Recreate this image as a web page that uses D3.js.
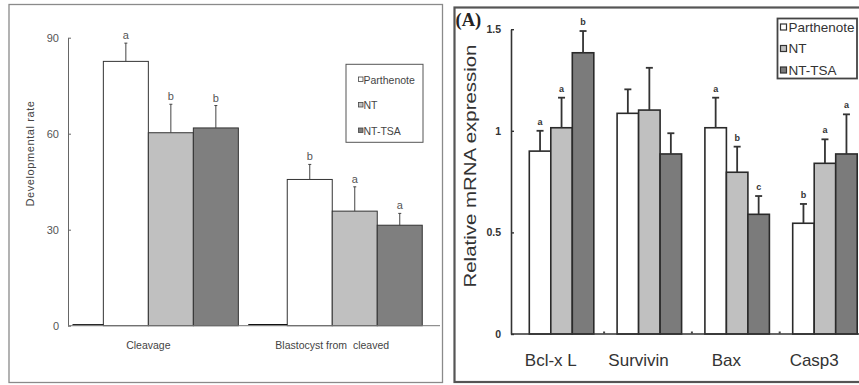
<!DOCTYPE html>
<html>
<head>
<meta charset="utf-8">
<script src="https://cdn.jsdelivr.net/npm/d3@7"></script>
<style>
  body { margin: 0; background: #fff; }
  svg { display: block; }
</style>
</head>
<body>
<svg id="chart" width="859" height="385"></svg>
<script>
// ---------- Left panel: developmental rate ----------
const stages = ["Cleavage", "Blastocyst from  cleaved"];
const groups = ["Parthenote", "NT", "NT-TSA"];
const parthenoteRate = [82.6, 45.7];
const ntRate = [60.3, 35.8];
const ntTsaRate = [61.8, 31.4];
const parthenoteRateErr = [5.7, 4.7];
const ntRateErr = [8.9, 7.6];
const ntTsaRateErr = [7.0, 3.7];
const parthenoteRateSig = ["a", "b"];
const ntRateSig = ["b", "a"];
const ntTsaRateSig = ["b", "a"];
const blankRate = [0, 0];          // empty leading series (zero height)
const rateTicks = [0, 30, 60, 90];

// ---------- Right panel: relative mRNA expression ----------
const genes = ["Bcl-x L", "Survivin", "Bax", "Casp3"];
const parthenoteExpr = [0.90, 1.086, 1.015, 0.545];
const ntExpr = [1.015, 1.102, 0.796, 0.84];
const ntTsaExpr = [1.384, 0.886, 0.589, 0.886];
const parthenoteExprErr = [0.10, 0.118, 0.148, 0.095];
const ntExprErr = [0.148, 0.208, 0.126, 0.118];
const ntTsaExprErr = [0.107, 0.102, 0.09, 0.195];
const parthenoteExprSig = ["a", "", "a", "b"];
const ntExprSig = ["a", "", "b", "a"];
const ntTsaExprSig = ["b", "", "c", "a"];
const blankExpr = [0, 0, 0, 0];
const exprTicks = [0, 0.5, 1, 1.5];
const exprTickLabels = ["0", "0.5", "1", "1.5"];

const svg = d3.select("#chart");

// ================= LEFT PANEL =================
const L = svg.append("g").attr("font-family", "Arial, 'Liberation Sans', sans-serif");

L.append("rect").attr("x", 9).attr("y", 4.5).attr("width", 433.5).attr("height", 378)
  .attr("fill", "none").attr("stroke", "#8a8a8a").attr("stroke-width", 1.3);

const yA = d3.scaleLinear().domain([0, 90]).range([325.7, 37.7]);
const x0A = d3.scaleBand().domain(stages).range([56.4, 424.2]);
const x1A = d3.scaleBand().domain(["blank", ...groups]).range([1.95, 181.95]);

const fillA = { "Parthenote": "#ffffff", "NT": "#c0c0c0", "NT-TSA": "#7f7f7f" };

const rateSeries = [
  { name: "Parthenote", vals: parthenoteRate, err: parthenoteRateErr, sig: parthenoteRateSig },
  { name: "NT", vals: ntRate, err: ntRateErr, sig: ntRateSig },
  { name: "NT-TSA", vals: ntTsaRate, err: ntTsaRateErr, sig: ntTsaRateSig }
];

// y axis
const axA = L.append("g").attr("transform", "translate(68,0)")
  .call(d3.axisLeft(yA).tickValues(rateTicks).tickSizeInner(-3).tickSizeOuter(0).tickPadding(9));
axA.select(".domain").attr("stroke", "#666");
axA.selectAll(".tick line").attr("stroke", "#666");
axA.selectAll(".tick text").attr("font-size", 11).attr("fill", "#555")
  .attr("font-family", "Arial, 'Liberation Sans', sans-serif");

// bars
stages.forEach((s, i) => {
  rateSeries.forEach(se => {
    const x = x0A(s) + x1A(se.name);
    const v = se.vals[i];
    L.append("rect").attr("x", x).attr("y", yA(v))
      .attr("width", x1A.bandwidth()).attr("height", yA(0) - yA(v))
      .attr("fill", fillA[se.name]).attr("stroke", "#333").attr("stroke-width", 1);
    const cx = x + x1A.bandwidth() / 2;
    const top = yA(v + se.err[i]);
    L.append("line").attr("x1", cx).attr("x2", cx).attr("y1", yA(v)).attr("y2", top)
      .attr("stroke", "#444").attr("stroke-width", 1);
    L.append("line").attr("x1", cx - 1.5).attr("x2", cx + 1.5).attr("y1", top).attr("y2", top)
      .attr("stroke", "#444").attr("stroke-width", 1);
    L.append("text").attr("x", cx).attr("y", top - 4).attr("text-anchor", "middle")
      .attr("font-size", 11).attr("fill", "#555").text(se.sig[i]);
  });
  // empty leading series renders as a flat dark line on the baseline
  const bx = x0A(s) + x1A("blank");
  const x1 = Math.max(bx + 6, 72.5);
  L.append("line").attr("x1", x1).attr("x2", bx + x1A.bandwidth())
    .attr("y1", yA(blankRate[i]) - 1).attr("y2", yA(blankRate[i]) - 1)
    .attr("stroke", "#111").attr("stroke-width", 1.2);
});

// x axis line
L.append("line").attr("x1", 68).attr("x2", 440).attr("y1", yA(0)).attr("y2", yA(0))
  .attr("stroke", "#777").attr("stroke-width", 1);

// category labels
stages.forEach(s => {
  L.append("text").attr("x", x0A(s) + x0A.bandwidth() / 2).attr("y", 349)
    .attr("text-anchor", "middle").attr("font-size", 10.5).attr("fill", "#444")
    .attr("xml:space", "preserve").style("white-space", "pre").text(s);
});

// y title
L.append("text").attr("transform", "translate(34,153.5) rotate(-90)")
  .attr("text-anchor", "middle").attr("font-size", 11).attr("fill", "#444")
  .attr("letter-spacing", 0.6).text("Developmental rate");

// legend
L.append("rect").attr("x", 346).attr("y", 64.3).attr("width", 77).attr("height", 78)
  .attr("fill", "#fff").attr("stroke", "#555").attr("stroke-width", 1);
groups.forEach((g, i) => {
  const ly = 80 + i * 25.5;
  L.append("rect").attr("x", 358.5).attr("y", ly - 3).attr("width", 4.5).attr("height", 4.5)
    .attr("fill", fillA[g]).attr("stroke", "#444").attr("stroke-width", 0.8);
  L.append("text").attr("x", 363.5).attr("y", ly + 3.5).attr("font-size", 10.5)
    .attr("fill", "#444").text(g);
});

// ================= RIGHT PANEL =================
const R = svg.append("g").attr("font-family", "Arial, 'Liberation Sans', sans-serif");

R.append("rect").attr("x", 454.5).attr("y", 7.5).attr("width", 420).attr("height", 374.5)
  .attr("fill", "none").attr("stroke", "#555").attr("stroke-width", 2.2);

const yB = d3.scaleLinear().domain([0, 1.5]).range([334, 29.2]);
const x0B = d3.scaleBand().domain(genes).range([506.9, 858.1]);
const x1B = d3.scaleBand().domain(["blank", ...groups]).range([0.9, 86.9]);
const fillB = { "Parthenote": "#ffffff", "NT": "#c0c0c0", "NT-TSA": "#7b7b7b" };

const exprSeries = [
  { name: "Parthenote", vals: parthenoteExpr, err: parthenoteExprErr, sig: parthenoteExprSig },
  { name: "NT", vals: ntExpr, err: ntExprErr, sig: ntExprSig },
  { name: "NT-TSA", vals: ntTsaExpr, err: ntTsaExprErr, sig: ntTsaExprSig }
];

// title tag
R.append("text").attr("x", 455.5).attr("y", 25.5).attr("font-family", "'Liberation Serif', 'Times New Roman', serif")
  .attr("font-weight", "bold").attr("font-size", 18.5).attr("fill", "#222").text("(A)");

// y axis
const axB = R.append("g").attr("transform", "translate(511,0)")
  .call(d3.axisLeft(yB).tickValues(exprTicks).tickFormat((d, i) => exprTickLabels[i])
    .tickSizeInner(-3).tickSizeOuter(0).tickPadding(10));
axB.select(".domain").attr("stroke", "#333").attr("stroke-width", 1.6);
axB.selectAll(".tick line").attr("stroke", "#333").attr("stroke-width", 1.4);
axB.selectAll(".tick text").attr("font-size", 10.5).attr("font-weight", "bold").attr("fill", "#333")
  .attr("font-family", "Arial, 'Liberation Sans', sans-serif");

// bars
genes.forEach((g, i) => {
  exprSeries.forEach(se => {
    const x = x0B(g) + x1B(se.name);
    const v = se.vals[i];
    const bw = x1B.bandwidth();
    R.append("rect").attr("x", x).attr("y", yB(v))
      .attr("width", bw).attr("height", yB(0) - yB(v))
      .attr("fill", fillB[se.name]).attr("stroke", "#2a2a2a").attr("stroke-width", 1.6);
    const cx = x + bw / 2;
    const top = yB(v + se.err[i]);
    R.append("line").attr("x1", cx).attr("x2", cx).attr("y1", yB(v)).attr("y2", top)
      .attr("stroke", "#333").attr("stroke-width", 1.8);
    R.append("line").attr("x1", cx - 3.5).attr("x2", cx + 3.5).attr("y1", top).attr("y2", top)
      .attr("stroke", "#333").attr("stroke-width", 1.8);
    if (se.sig[i]) {
      R.append("text").attr("x", cx).attr("y", top - 6).attr("text-anchor", "middle")
        .attr("font-size", 9).attr("font-weight", "bold").attr("fill", "#333").text(se.sig[i]);
    }
  });
  // empty leading series: a tiny mark on the baseline
  const bx = x0B(g) + x1B("blank") + 7.5;
  if (i > 0) {
    R.append("rect").attr("x", bx).attr("y", yB(blankExpr[i]) - 2.5).attr("width", 2).attr("height", 2)
      .attr("fill", "#444");
  }
});

// x axis
R.append("line").attr("x1", 511).attr("x2", 859).attr("y1", yB(0)).attr("y2", yB(0))
  .attr("stroke", "#333").attr("stroke-width", 1.6);

genes.forEach(g => {
  R.append("text").attr("x", x0B(g) + x0B.bandwidth() / 2).attr("y", 366)
    .attr("text-anchor", "middle").attr("font-size", 17).attr("fill", "#333").text(g);
});

// y title
R.append("text").attr("transform", "translate(476,166) rotate(-90)")
  .attr("text-anchor", "middle").attr("font-size", 17).attr("fill", "#333")
  .attr("textLength", 243).attr("lengthAdjust", "spacingAndGlyphs")
  .text("Relative mRNA expression");

// legend
R.append("rect").attr("x", 777.5).attr("y", 18.5).attr("width", 79.5).attr("height", 60)
  .attr("fill", "#fff").attr("stroke", "#444").attr("stroke-width", 1.8);
groups.forEach((g, i) => {
  const ly = 27 + i * 21.5;
  R.append("rect").attr("x", 780.5).attr("y", ly - 3).attr("width", 6).attr("height", 6)
    .attr("fill", fillB[g]).attr("stroke", "#333").attr("stroke-width", 1.2);
  R.append("text").attr("x", 788.5).attr("y", ly + 4.5).attr("font-size", 13.5)
    .attr("fill", "#333").text(g);
});
</script>
</body>
</html>
